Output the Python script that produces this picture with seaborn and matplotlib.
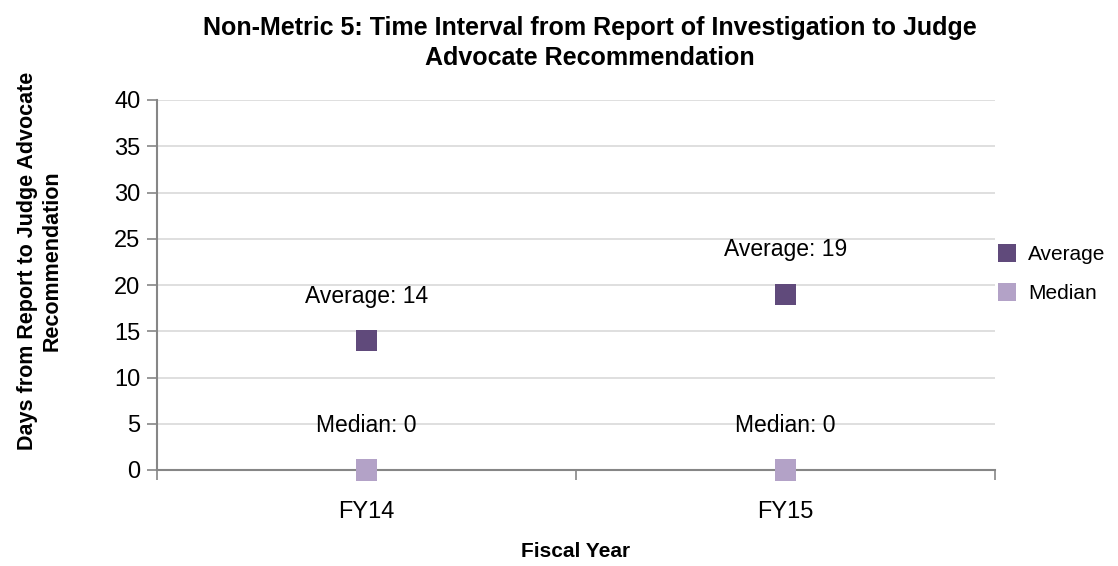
import numpy as np
import pandas as pd
import matplotlib.pyplot as plt
import seaborn as sns

sns.set_theme(style="white")
plt.rcParams['font.family'] = ['Liberation Sans', 'DejaVu Sans']
plt.rcParams['text.color'] = 'black'
plt.rcParams['axes.labelcolor'] = 'black'

years = ['FY14', 'FY15']
average = [14, 19]
median = [0, 0]

df = pd.DataFrame({
    'Fiscal Year': years * 2,
    'Days': average + median,
    'Series': ['Average'] * 2 + ['Median'] * 2,
})

colors = {'Average': '#604A7B', 'Median': '#B3A2C7'}

fig = plt.figure(figsize=(11.18, 5.66), dpi=100)
ax = fig.add_axes([157 / 1118, 96 / 566, 838 / 1118, 370 / 566])

sns.scatterplot(data=df, x='Fiscal Year', y='Days', hue='Series', palette=colors,
                marker='s', s=230, edgecolor='none', ax=ax, zorder=3, clip_on=False)

ax.set_xlim(-0.5, 1.5)
ax.set_ylim(0, 40)
ax.set_yticks(range(0, 41, 5))
ax.yaxis.grid(True, color='#D9D9D9', linewidth=1.2)
ax.set_axisbelow(True)
for s in ['top', 'right']:
    ax.spines[s].set_visible(False)
for s in ['left', 'bottom']:
    ax.spines[s].set_color('#868686')
    ax.spines[s].set_linewidth(1.5)

ax.set_xticks([0, 1])
ax.set_xticklabels(years)
ax.set_xticks([-0.5, 0.5, 1.5], minor=True)
ax.tick_params(axis='x', which='major', length=0, labelsize=17, pad=22, colors='black')
ax.tick_params(axis='x', which='minor', length=7, width=1.2, color='#868686', direction='out', bottom=True)
ax.tick_params(axis='y', length=7, width=1.2, color='#868686', direction='out', left=True,
               labelsize=17, colors='black', pad=5)

for i, (a, m) in enumerate(zip(average, median)):
    ax.annotate(f'Average: {a}', (i, a), xytext=(0, 32), textcoords='offset points',
                ha='center', va='center', fontsize=16.5)
    ax.annotate(f'Median: {m}', (i, m), xytext=(0, 32), textcoords='offset points',
                ha='center', va='center', fontsize=16.5)

ax.set_xlabel('Fiscal Year', fontsize=15, fontweight='bold', labelpad=14)
ax.set_ylabel('Days from Report to Judge Advocate\nRecommendation', fontsize=15.5,
              fontweight='bold')
ax.yaxis.set_label_coords(-0.113, 0.565)
fig.suptitle('Non-Metric 5: Time Interval from Report of Investigation to Judge\nAdvocate Recommendation',
             x=0.528, y=0.972, fontsize=18, fontweight='bold', linespacing=1.3)

ax.legend(loc='upper left', bbox_to_anchor=(0.98, 0.63), frameon=False, fontsize=15,
          handletextpad=0.0, labelspacing=0.95, markerscale=0.9, borderaxespad=0)

fig.savefig('out.png', dpi=100)
